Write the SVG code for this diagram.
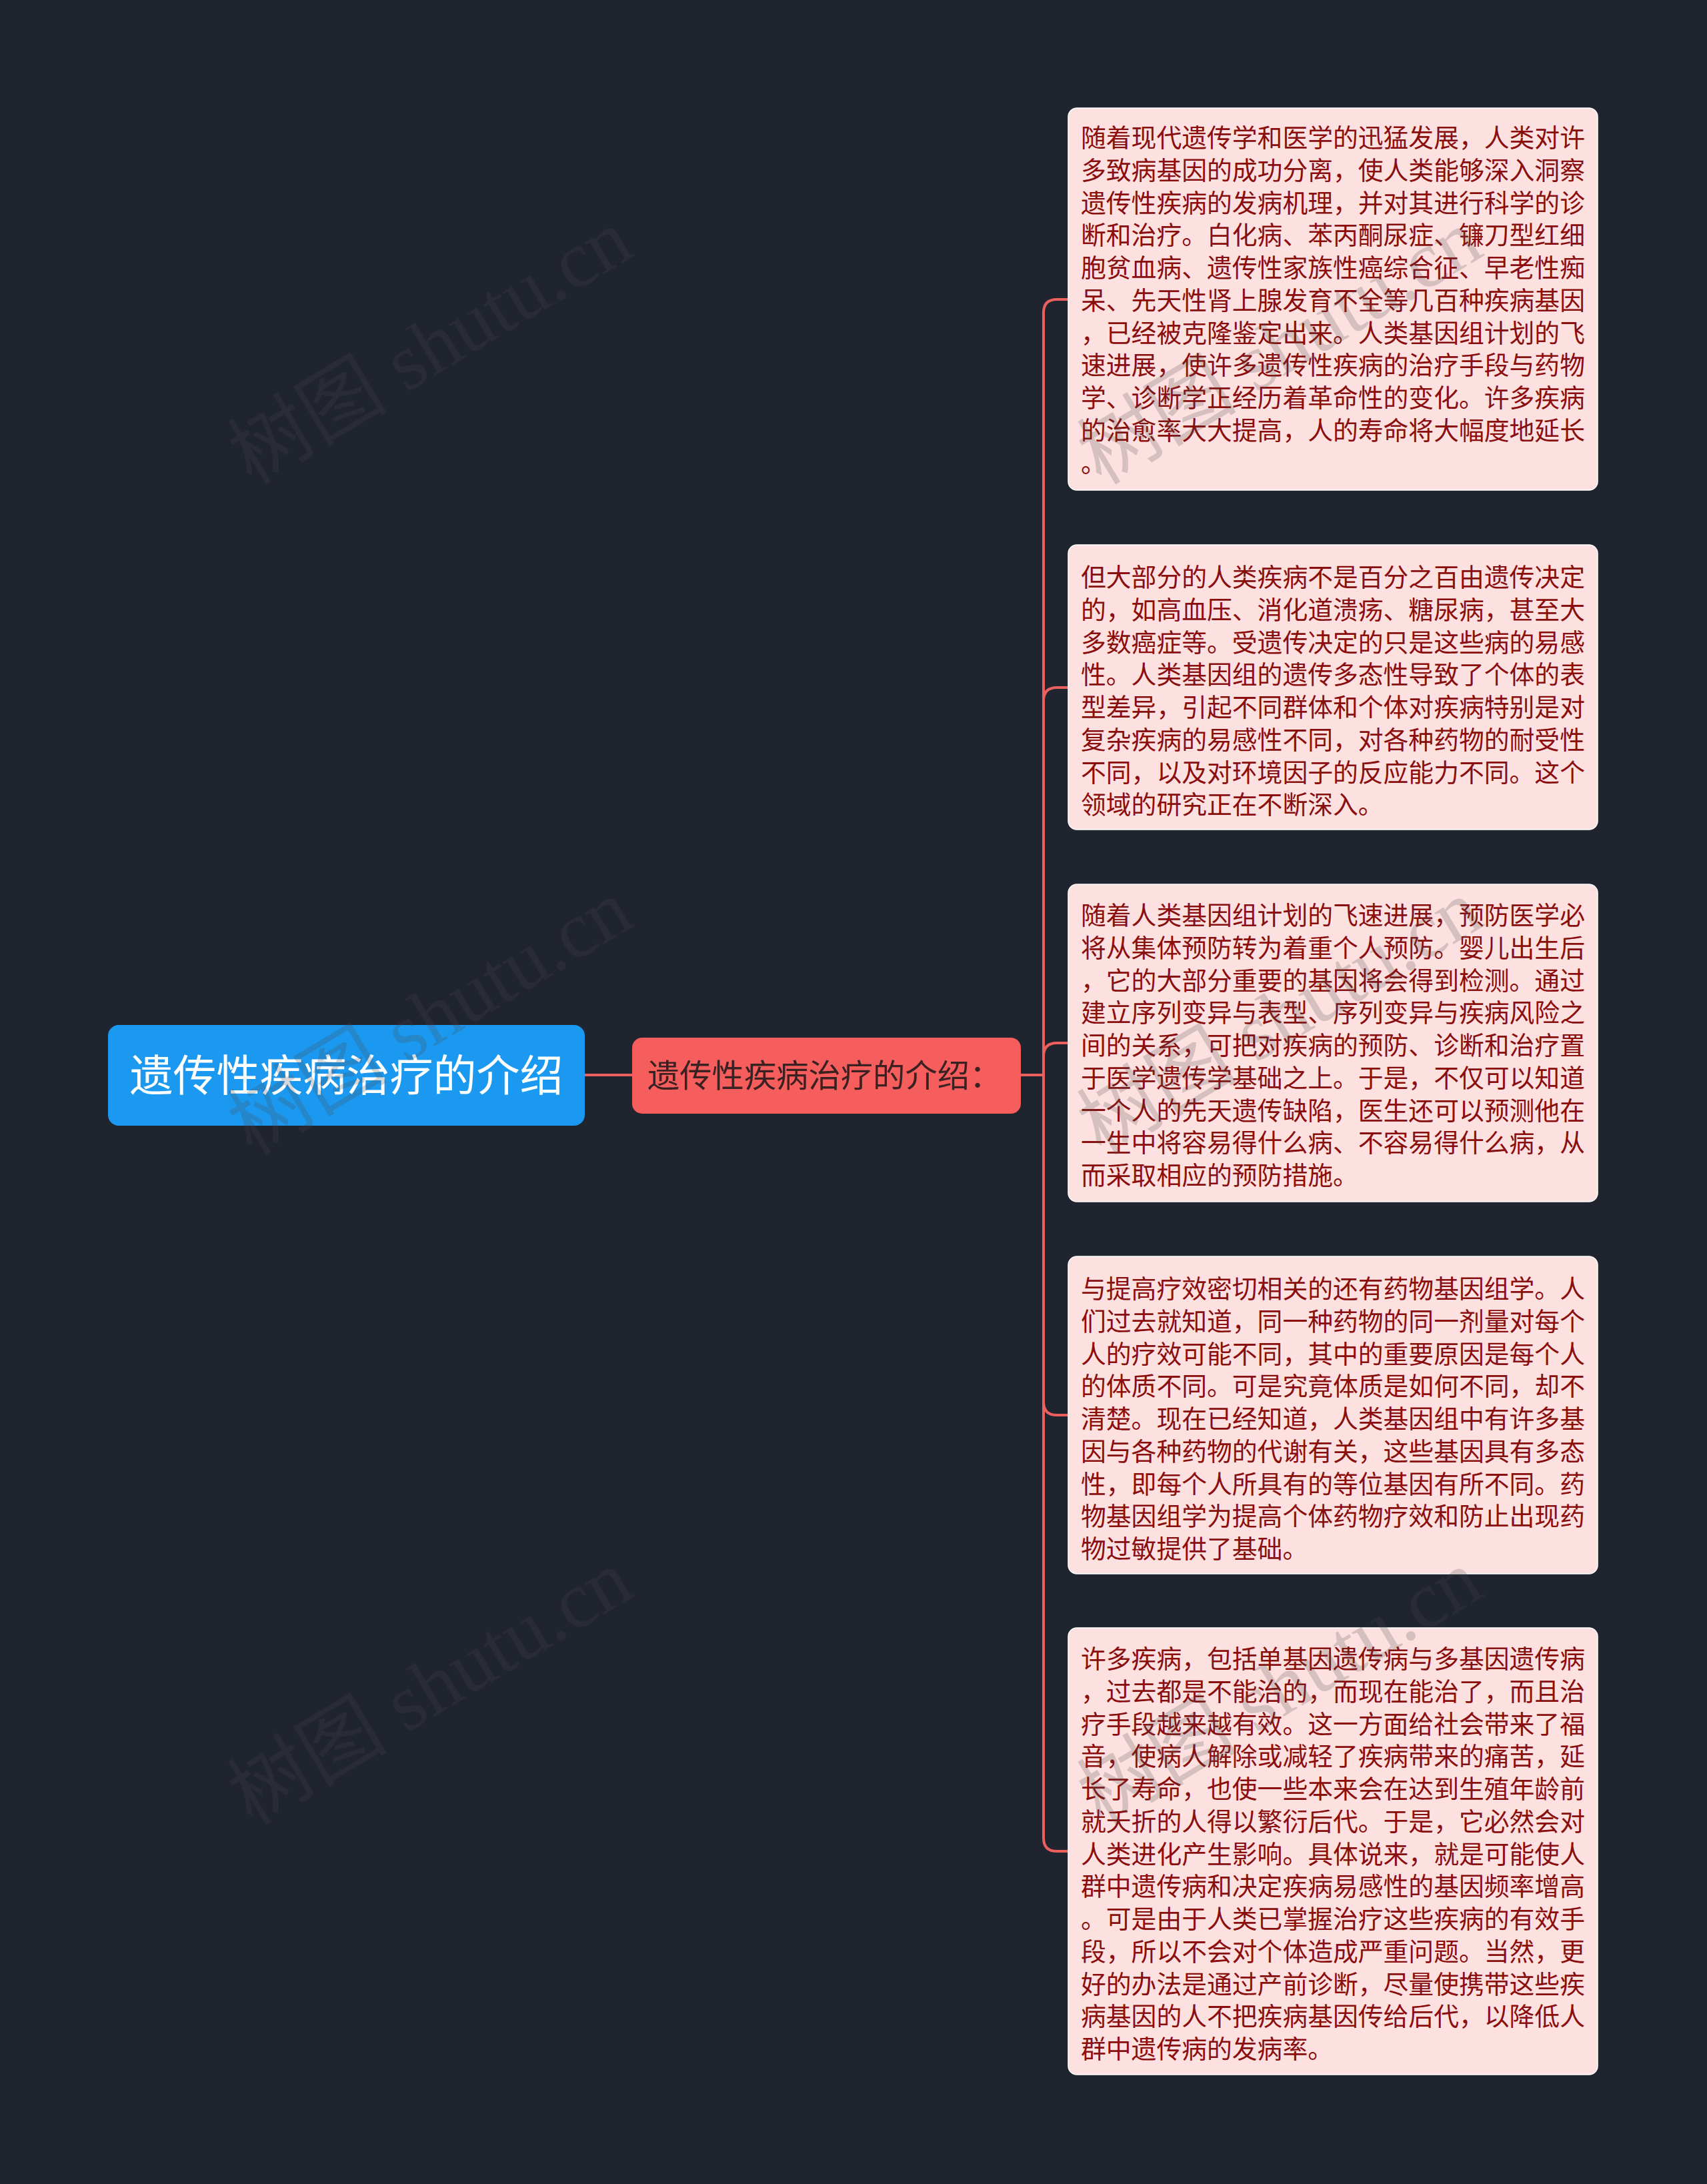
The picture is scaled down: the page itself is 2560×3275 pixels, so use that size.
<svg xmlns="http://www.w3.org/2000/svg" width="2560" height="3275" viewBox="0 0 2560 3275">
<style>
.bg{fill:#20242f}
.root{fill:#1b98ef}
.roott{fill:#ffffff;font-family:"Noto Sans CJK SC","Noto Sans",sans-serif;font-size:65px}
.mid{fill:#f65e5e}
.midt{fill:#3b2121;font-family:"Noto Sans CJK SC","Noto Sans",sans-serif;font-size:48.3px}
.leaf{fill:#fde1e1;stroke:#ffffff;stroke-width:1.5}
.leaft{fill:#8a0e0e;font-family:"Noto Sans CJK SC","Noto Sans",sans-serif;font-size:37.8px}
.conn{fill:none;stroke:#ec5f5f;stroke-width:4;stroke-linecap:round}
.wm{fill:#4a4a4a;opacity:0.22;font-family:"Liberation Serif","Noto Sans CJK SC",serif;font-size:120px}
</style>
<rect class="bg" x="0" y="0" width="2560" height="3275"/>
<g id="connectors">
<path class="conn" d="M877,1612 H948"/>
<path class="conn" d="M1531,1612 H1565"/>
<path class="conn" d="M1565,1612 V469 Q1565,449 1585,449 H1601"/>
<path class="conn" d="M1565,1612 V1051 Q1565,1031 1585,1031 H1601"/>
<path class="conn" d="M1565,1612 V1584 Q1565,1564 1585,1564 H1601"/>
<path class="conn" d="M1565,1612 V2102 Q1565,2122 1585,2122 H1601"/>
<path class="conn" d="M1565,1612 V2756 Q1565,2776 1585,2776 H1601"/>
</g>
<g id="root">
<rect class="root" x="162" y="1537" width="715" height="151" rx="16"/>
<text class="roott" x="519.5" y="1636" text-anchor="middle">遗传性疾病治疗的介绍</text>
</g>
<g id="mid">
<rect class="mid" x="948" y="1556" width="583" height="114" rx="15"/>
<text class="midt" x="971" y="1630">遗传性疾病治疗的介绍：</text>
</g>
<g id="leaf1">
<rect class="leaf" x="1602" y="162" width="794" height="573" rx="13"/>
<text class="leaft" x="1621" y="220">
<tspan x="1621">随着现代遗传学和医学的迅猛发展，人类对许</tspan>
<tspan x="1621" dy="48.75">多致病基因的成功分离，使人类能够深入洞察</tspan>
<tspan x="1621" dy="48.75">遗传性疾病的发病机理，并对其进行科学的诊</tspan>
<tspan x="1621" dy="48.75">断和治疗。白化病、苯丙酮尿症、镰刀型红细</tspan>
<tspan x="1621" dy="48.75">胞贫血病、遗传性家族性癌综合征、早老性痴</tspan>
<tspan x="1621" dy="48.75">呆、先天性肾上腺发育不全等几百种疾病基因</tspan>
<tspan x="1621" dy="48.75">，已经被克隆鉴定出来。人类基因组计划的飞</tspan>
<tspan x="1621" dy="48.75">速进展，使许多遗传性疾病的治疗手段与药物</tspan>
<tspan x="1621" dy="48.75">学、诊断学正经历着革命性的变化。许多疾病</tspan>
<tspan x="1621" dy="48.75">的治愈率大大提高，人的寿命将大幅度地延长</tspan>
<tspan x="1621" dy="48.75">。</tspan>
</text>
</g>
<g id="leaf2">
<rect class="leaf" x="1602" y="817" width="794" height="427" rx="13"/>
<text class="leaft" x="1621" y="879">
<tspan x="1621">但大部分的人类疾病不是百分之百由遗传决定</tspan>
<tspan x="1621" dy="48.75">的，如高血压、消化道溃疡、糖尿病，甚至大</tspan>
<tspan x="1621" dy="48.75">多数癌症等。受遗传决定的只是这些病的易感</tspan>
<tspan x="1621" dy="48.75">性。人类基因组的遗传多态性导致了个体的表</tspan>
<tspan x="1621" dy="48.75">型差异，引起不同群体和个体对疾病特别是对</tspan>
<tspan x="1621" dy="48.75">复杂疾病的易感性不同，对各种药物的耐受性</tspan>
<tspan x="1621" dy="48.75">不同，以及对环境因子的反应能力不同。这个</tspan>
<tspan x="1621" dy="48.75">领域的研究正在不断深入。</tspan>
</text>
</g>
<g id="leaf3">
<rect class="leaf" x="1602" y="1326" width="794" height="476" rx="13"/>
<text class="leaft" x="1621" y="1386">
<tspan x="1621">随着人类基因组计划的飞速进展，预防医学必</tspan>
<tspan x="1621" dy="48.75">将从集体预防转为着重个人预防。婴儿出生后</tspan>
<tspan x="1621" dy="48.75">，它的大部分重要的基因将会得到检测。通过</tspan>
<tspan x="1621" dy="48.75">建立序列变异与表型、序列变异与疾病风险之</tspan>
<tspan x="1621" dy="48.75">间的关系，可把对疾病的预防、诊断和治疗置</tspan>
<tspan x="1621" dy="48.75">于医学遗传学基础之上。于是，不仅可以知道</tspan>
<tspan x="1621" dy="48.75">一个人的先天遗传缺陷，医生还可以预测他在</tspan>
<tspan x="1621" dy="48.75">一生中将容易得什么病、不容易得什么病，从</tspan>
<tspan x="1621" dy="48.75">而采取相应的预防措施。</tspan>
</text>
</g>
<g id="leaf4">
<rect class="leaf" x="1602" y="1884" width="794" height="476" rx="13"/>
<text class="leaft" x="1621" y="1946">
<tspan x="1621">与提高疗效密切相关的还有药物基因组学。人</tspan>
<tspan x="1621" dy="48.75">们过去就知道，同一种药物的同一剂量对每个</tspan>
<tspan x="1621" dy="48.75">人的疗效可能不同，其中的重要原因是每个人</tspan>
<tspan x="1621" dy="48.75">的体质不同。可是究竟体质是如何不同，却不</tspan>
<tspan x="1621" dy="48.75">清楚。现在已经知道，人类基因组中有许多基</tspan>
<tspan x="1621" dy="48.75">因与各种药物的代谢有关，这些基因具有多态</tspan>
<tspan x="1621" dy="48.75">性，即每个人所具有的等位基因有所不同。药</tspan>
<tspan x="1621" dy="48.75">物基因组学为提高个体药物疗效和防止出现药</tspan>
<tspan x="1621" dy="48.75">物过敏提供了基础。</tspan>
</text>
</g>
<g id="leaf5">
<rect class="leaf" x="1602" y="2441" width="794" height="670" rx="13"/>
<text class="leaft" x="1621" y="2501">
<tspan x="1621">许多疾病，包括单基因遗传病与多基因遗传病</tspan>
<tspan x="1621" dy="48.75">，过去都是不能治的，而现在能治了，而且治</tspan>
<tspan x="1621" dy="48.75">疗手段越来越有效。这一方面给社会带来了福</tspan>
<tspan x="1621" dy="48.75">音，使病人解除或减轻了疾病带来的痛苦，延</tspan>
<tspan x="1621" dy="48.75">长了寿命，也使一些本来会在达到生殖年龄前</tspan>
<tspan x="1621" dy="48.75">就夭折的人得以繁衍后代。于是，它必然会对</tspan>
<tspan x="1621" dy="48.75">人类进化产生影响。具体说来，就是可能使人</tspan>
<tspan x="1621" dy="48.75">群中遗传病和决定疾病易感性的基因频率增高</tspan>
<tspan x="1621" dy="48.75">。可是由于人类已掌握治疗这些疾病的有效手</tspan>
<tspan x="1621" dy="48.75">段，所以不会对个体造成严重问题。当然，更</tspan>
<tspan x="1621" dy="48.75">好的办法是通过产前诊断，尽量使携带这些疾</tspan>
<tspan x="1621" dy="48.75">病基因的人不把疾病基因传给后代，以降低人</tspan>
<tspan x="1621" dy="48.75">群中遗传病的发病率。</tspan>
</text>
</g>
<g id="watermarks">
<text class="wm" text-anchor="middle" transform="translate(666,555) rotate(-31)">树图 shutu.cn</text>
<text class="wm" text-anchor="middle" transform="translate(666,1560) rotate(-31)">树图 shutu.cn</text>
<text class="wm" text-anchor="middle" transform="translate(666,2565) rotate(-31)">树图 shutu.cn</text>
<text class="wm" text-anchor="middle" transform="translate(1940,555) rotate(-31)">树图 shutu.cn</text>
<text class="wm" text-anchor="middle" transform="translate(1940,1560) rotate(-31)">树图 shutu.cn</text>
<text class="wm" text-anchor="middle" transform="translate(1940,2565) rotate(-31)">树图 shutu.cn</text>
</g>
</svg>
